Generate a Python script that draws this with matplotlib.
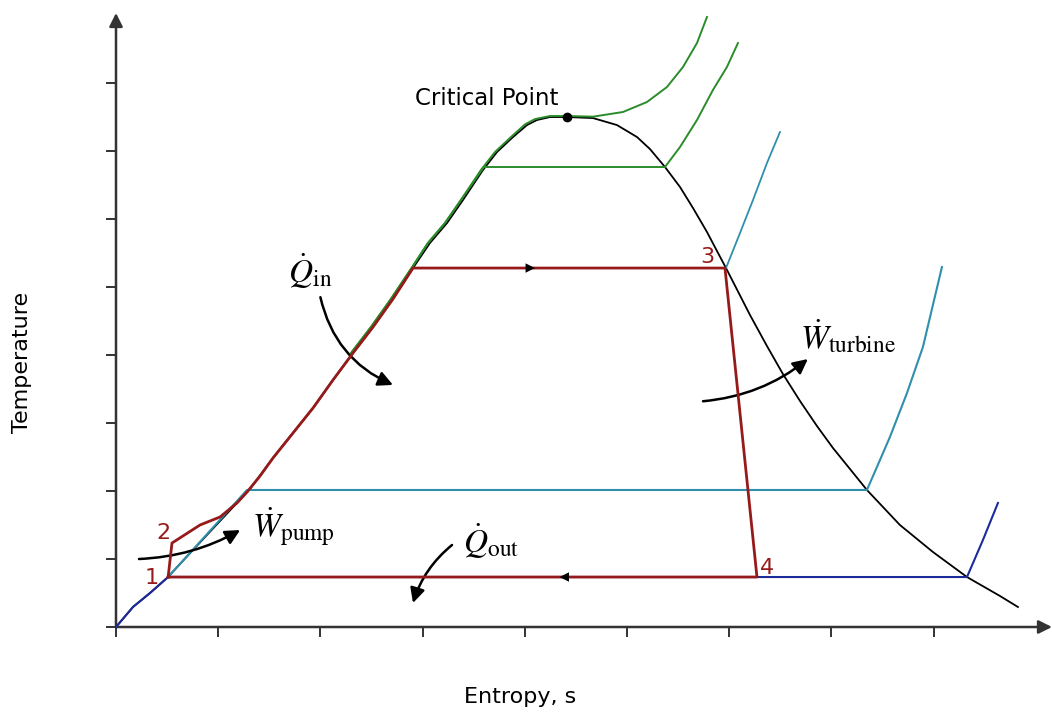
import matplotlib
matplotlib.use("Agg")
import matplotlib.pyplot as plt

plt.rcParams['mathtext.fontset'] = 'stix'
plt.rcParams['font.family'] = ['DejaVu Sans']

# ---------------- data (entropy s, temperature T in tick units) ----------------
# saturation dome
sat_s = [0.0, 0.166, 0.333, 0.499, 0.890, 1.311, 1.536, 1.732, 1.928, 2.123, 2.319,
         2.515, 2.710, 2.906, 3.072, 3.239, 3.395, 3.591, 3.728, 3.885, 4.022,
         4.119, 4.247, 4.413,
         4.667, 4.902, 5.098, 5.225, 5.372, 5.519, 5.646, 5.783, 5.881, 5.969,
         6.204, 6.370, 6.526, 6.693, 6.859, 7.016, 7.182, 7.348, 7.671, 7.994,
         8.327, 8.650, 8.826]
sat_T = [0.0, 0.294, 0.500, 0.721, 1.353, 2.029, 2.485, 2.853, 3.221, 3.632, 4.029,
         4.412, 4.824, 5.279, 5.647, 5.941, 6.279, 6.721, 6.985, 7.206, 7.382,
         7.456, 7.500, 7.500,
         7.485, 7.382, 7.206, 7.029, 6.765, 6.471, 6.162, 5.809, 5.529, 5.279,
         4.588, 4.132, 3.721, 3.324, 2.956, 2.632, 2.324, 2.015, 1.500, 1.103,
         0.735, 0.456, 0.294]
crit_s, crit_T = 4.413, 7.5

# Rankine cycle 1-2-3-4-1
cycle_s = [0.51, 0.548, 0.822, 1.018, 1.184, 1.282, 1.409, 1.536, 1.732, 1.928,
           2.123, 2.319, 2.515, 2.710, 2.906, 5.959, 6.272, 0.51]
cycle_T = [0.735, 1.235, 1.500, 1.618, 1.824, 1.985, 2.220, 2.485, 2.853, 3.221,
           3.632, 4.029, 4.412, 4.824, 5.279, 5.279, 0.735, 0.735]

# isobars
iso_low_s = [0.0, 0.166, 0.333, 0.51, 8.327, 8.483, 8.630]
iso_low_T = [0.0, 0.294, 0.500, 0.735, 0.735, 1.279, 1.824]

iso_mid_s = [0.51, 1.282, 7.348, 7.446, 7.573, 7.740, 7.896, 8.082]
iso_mid_T = [0.735, 2.015, 2.015, 2.353, 2.794, 3.441, 4.118, 5.294]

iso_high_s = [1.311, 1.536, 1.732, 1.928, 2.123, 2.319, 2.515, 2.710, 2.906,
              5.969, 6.106, 6.233, 6.370, 6.497]
iso_high_T = [2.029, 2.485, 2.853, 3.221, 3.632, 4.029, 4.412, 4.824, 5.279,
              5.279, 5.794, 6.279, 6.824, 7.279]

iso_g1_s = [2.300, 2.495, 2.690, 2.886, 3.052, 3.219, 3.375, 3.600, 5.372,
            5.519, 5.685, 5.841, 5.978, 6.086]
iso_g1_T = [4.030, 4.412, 4.824, 5.265, 5.647, 5.941, 6.279, 6.765, 6.765,
            7.059, 7.456, 7.897, 8.235, 8.588]

iso_g2_s = [2.300, 2.495, 2.690, 2.886, 3.052, 3.219, 3.375, 3.571, 3.708, 3.865,
            4.002, 4.100, 4.247, 4.413, 4.667, 4.961, 5.196, 5.391, 5.548, 5.685,
            5.783]
iso_g2_T = [4.030, 4.412, 4.824, 5.265, 5.647, 5.941, 6.279, 6.721, 6.985, 7.206,
            7.392, 7.470, 7.515, 7.515, 7.505, 7.574, 7.721, 7.941, 8.235, 8.588,
            8.971]

state_labels = ["1", "2", "3", "4"]
state_label_pos = [(0.352, 0.721), (0.46, 1.382), (5.783, 5.441), (6.37, 0.868)]

# ---------------- figure ----------------
RED = "#961a1a"
GREEN = "#2a8c2a"
TEAL = "#2f8fad"
BLUE = "#1c2a9c"

fig = plt.figure(figsize=(10.52, 7.12), dpi=100)
ax = fig.add_axes([116/1052, 85/712, 936/1052, 617/712])
ax.set_xlim(0, 9.159)
ax.set_ylim(0, 9.074)
for sp in ax.spines.values():
    sp.set_visible(False)

ax.set_xticks(range(0, 9))
ax.set_yticks(range(0, 9))
ax.tick_params(direction='out', length=7, width=1.4, color='#333333',
               labelbottom=False, labelleft=False)

# axes with arrows
ax.annotate('', xy=(9.159, 0), xytext=(0, 0), xycoords='data',
            arrowprops=dict(arrowstyle='-|>', color='#333333', lw=1.8,
                            mutation_scale=20, shrinkA=0, shrinkB=0),
            annotation_clip=False)
ax.annotate('', xy=(0, 9.03), xytext=(0, 0), xycoords='data',
            arrowprops=dict(arrowstyle='-|>', color='#333333', lw=1.8,
                            mutation_scale=20, shrinkA=0, shrinkB=0),
            annotation_clip=False)

# curves
ax.plot(sat_s, sat_T, color='black', lw=1.3, clip_on=False, zorder=2)
ax.plot(iso_g2_s, iso_g2_T, color=GREEN, lw=1.4, clip_on=False, zorder=3)
ax.plot(iso_g1_s, iso_g1_T, color=GREEN, lw=1.4, clip_on=False, zorder=3)
ax.plot(iso_high_s, iso_high_T, color=TEAL, lw=1.3, clip_on=False, zorder=3)
ax.plot(iso_mid_s, iso_mid_T, color=TEAL, lw=1.5, clip_on=False, zorder=3)
ax.plot(iso_low_s, iso_low_T, color=BLUE, lw=1.5, clip_on=False, zorder=3)
ax.plot(cycle_s, cycle_T, color=RED, lw=2.0, clip_on=False, zorder=4)
ax.plot([crit_s], [crit_T], 'o', color='black', ms=6, zorder=5)

# flow direction arrows on cycle
ax.annotate('', xy=(4.10, 5.279), xytext=(3.90, 5.279),
            arrowprops=dict(arrowstyle='-|>', color='black', lw=0, mutation_scale=17,
                            shrinkA=0, shrinkB=0), zorder=6)
ax.annotate('', xy=(4.34, 0.735), xytext=(4.54, 0.735),
            arrowprops=dict(arrowstyle='-|>', color='black', lw=0, mutation_scale=17,
                            shrinkA=0, shrinkB=0), zorder=6)

# state labels
for lab, (sx, sy) in zip(state_labels, state_label_pos):
    ax.text(sx, sy, lab, color=RED, fontsize=16, ha='center', va='center')

# critical point
ax.text(2.926, 7.676, 'Critical Point', fontsize=16.5, ha='left', va='baseline')

# heat / work annotations
akw = dict(arrowstyle='-|>', color='black', lw=1.8, mutation_scale=22,
           shrinkA=0, shrinkB=0)
ax.text(1.683, 5.059, r'$\dot{Q}_{\mathrm{in}}$', fontsize=24, ha='left', va='baseline')
ax.annotate('', xy=(2.71, 3.56), xytext=(2.0, 4.85),
            arrowprops=dict(connectionstyle='arc3,rad=0.25', **akw))

ax.text(1.331, 1.324, r'$\dot{W}_{\mathrm{pump}}$', fontsize=24, ha='left', va='baseline')
ax.annotate('', xy=(1.215, 1.426), xytext=(0.225, 1.0),
            arrowprops=dict(connectionstyle='arc3,rad=0.12', **akw))

ax.text(3.395, 1.088, r'$\dot{Q}_{\mathrm{out}}$', fontsize=24, ha='left', va='baseline')
ax.annotate('', xy=(2.906, 0.353), xytext=(3.288, 1.206),
            arrowprops=dict(connectionstyle='arc3,rad=0.15', **akw))

ax.text(6.693, 4.103, r'$\dot{W}_{\mathrm{turbine}}$', fontsize=24, ha='left', va='baseline')
ax.annotate('', xy=(6.77, 3.941), xytext=(5.744, 3.32),
            arrowprops=dict(connectionstyle='arc3,rad=0.15', **akw))

# axis titles
fig.text(22/1052, 1 - 362/712, 'Temperature', rotation=90, fontsize=16,
         ha='center', va='center')
fig.text(520/1052, 1 - 697/712, 'Entropy, s', fontsize=16, ha='center', va='center')

fig.savefig('out.png', dpi=100)
